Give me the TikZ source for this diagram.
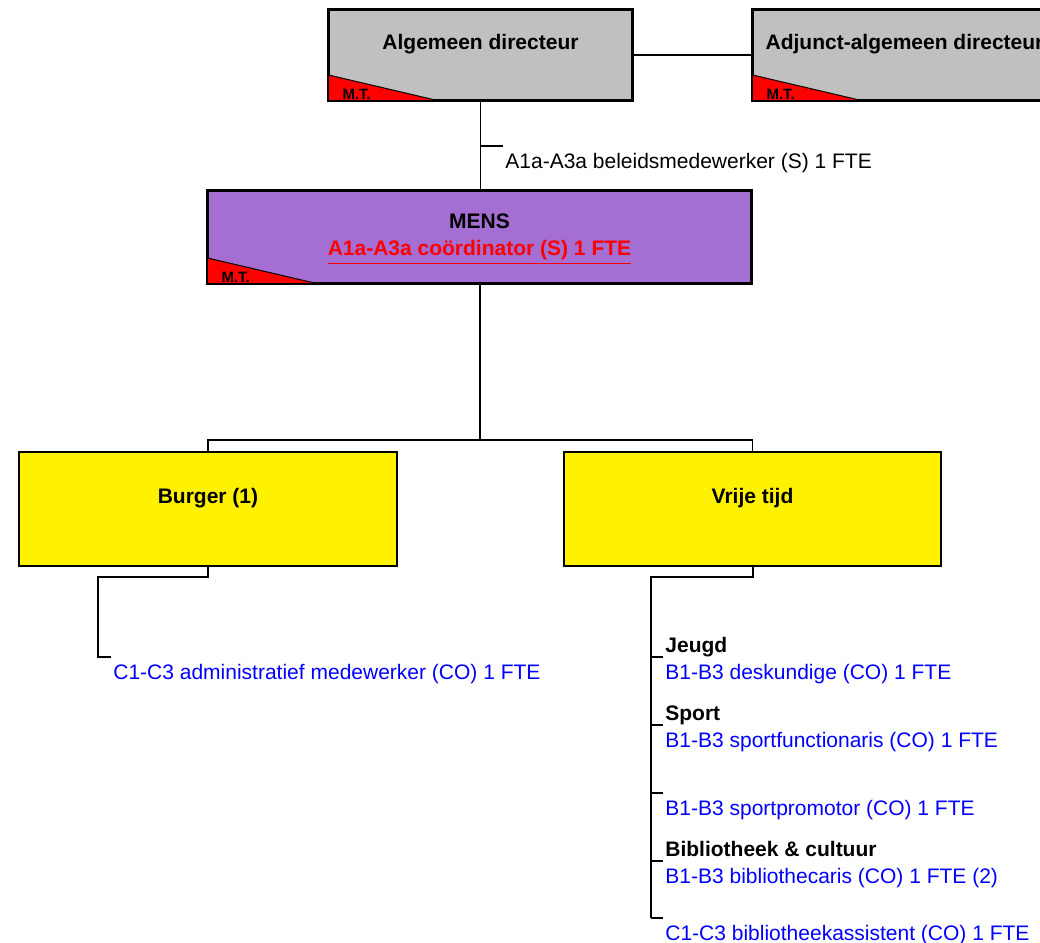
\documentclass[tikz,border=0pt]{standalone}
\usepackage{fontspec}
\setmainfont{Liberation Sans}
\usetikzlibrary{calc}

\definecolor{dirgrey}{RGB}{192,192,192}
\definecolor{mensviolet}{RGB}{164,110,210}

% red M.T. corner in the lower left of a box
\newcommand{\mtcorner}[1]{%
  \fill[red] ([yshift=13pt]#1.south west) -- (#1.south west) -- ([xshift=55.5pt]#1.south west) -- cycle;
  \draw[line width=0.5pt] ([yshift=13pt]#1.south west) -- ([xshift=55.5pt]#1.south west);
  \node[mtlabel] (#1mt) at ([xshift=7pt,yshift=0.6pt]#1.south west) {M.T.};
  \draw[line width=0.9pt] (#1.south west) rectangle (#1.north east);
}

\begin{document}
\begin{tikzpicture}[x=0.5pt,y=-0.5pt,
    orgbox/.style={draw, line width=0.9pt, align=center, inner sep=0pt,
      font=\bfseries\fontsize{10.5}{13.5}\selectfont},
    mtlabel/.style={anchor=south west, inner sep=0pt, font=\bfseries\fontsize{7.5}{9}\selectfont},
    staff/.style={anchor=west, align=left, inner sep=1pt, yshift=-1pt, font=\fontsize{10.5}{13.25}\selectfont},
    link/.style={line width=0.6pt},
    trunk/.style={line width=1pt}]
  \useasboundingbox (0,0) rectangle (1040,943);
  \clip (0,0) rectangle (1040,943);

  % boxes
  \node[orgbox, fill=dirgrey, minimum width=151.5pt, minimum height=45pt] (alg) at (480.5,55) {Algemeen directeur\\ \mbox{}};
  \node[orgbox, fill=dirgrey, minimum width=151.5pt, minimum height=45pt] (adj) at (904.5,55) {Adjunct-algemeen directeur\\ \mbox{}};
  \node[orgbox, fill=mensviolet, minimum width=271.5pt, minimum height=46pt] (mens) at (479.5,237)
    {\strut MENS\\ \textcolor{red}{\underline{A1a-A3a coördinator (S) 1 FTE}}};
  \node[orgbox, fill=yellow, minimum width=189pt, minimum height=57pt] (burger) at (208,509) {Burger (1)\\ \mbox{}};
  \node[orgbox, fill=yellow, minimum width=188.5pt, minimum height=57pt] (vrije) at (752.5,509) {Vrije tijd\\ \mbox{}};
  \mtcorner{alg}
  \mtcorner{adj}
  \mtcorner{mens}

  % top level
  \draw[link] (alg.east) -- (adj.west);
  \draw[link] (alg.south) -- (alg.south |- mens.north);
  \coordinate (beltick) at (503,146);
  \draw[link] (alg.south |- beltick) -- (beltick);
  \node[staff] (bel) at (beltick) {\strut\\ A1a-A3a beleidsmedewerker (S) 1 FTE};

  % MENS to the two departments
  \coordinate (bus) at (480,440);
  \draw[trunk] (mens.south) -- (mens.south |- bus);
  \draw[link] (burger.north) |- (bus) -| (vrije.north);

  % Burger
  \coordinate (bturn) at (98,577);
  \coordinate (admintick) at (111,657);
  \draw[link] (burger.south) |- (bturn) |- (admintick);
  \node[staff] (admin) at (admintick) {\strut\\ \textcolor{blue}{C1-C3 administratief medewerker (CO) 1 FTE}};

  % Vrije tijd
  \coordinate (vturn) at (651,577);
  \coordinate (jeugdtick) at (663,657);
  \coordinate (sporttick) at (663,725);
  \coordinate (promotick) at (663,793);
  \coordinate (bibtick) at (663,861);
  \coordinate (assisttick) at (663,918);
  \draw[trunk] (vrije.south) |- (vturn) -- (vturn |- assisttick);
  \foreach \t in {jeugdtick,sporttick,promotick,bibtick,assisttick}
    \draw[link] (vturn |- \t) -- (\t);
  \node[staff] (jeugd) at (jeugdtick) {\strut\textbf{Jeugd}\\ \textcolor{blue}{B1-B3 deskundige (CO) 1 FTE}};
  \node[staff] (sport) at (sporttick) {\strut\textbf{Sport}\\ \textcolor{blue}{B1-B3 sportfunctionaris (CO) 1 FTE}};
  \node[staff] (promo) at (promotick) {\strut\\ \textcolor{blue}{B1-B3 sportpromotor (CO) 1 FTE}};
  \node[staff] (bib) at (bibtick) {\strut\textbf{Bibliotheek \& cultuur}\\ \textcolor{blue}{B1-B3 bibliothecaris (CO) 1 FTE (2)}};
  \node[staff] (assist) at (assisttick) {\strut\\ \textcolor{blue}{C1-C3 bibliotheekassistent (CO) 1 FTE}};
\end{tikzpicture}
\end{document}
